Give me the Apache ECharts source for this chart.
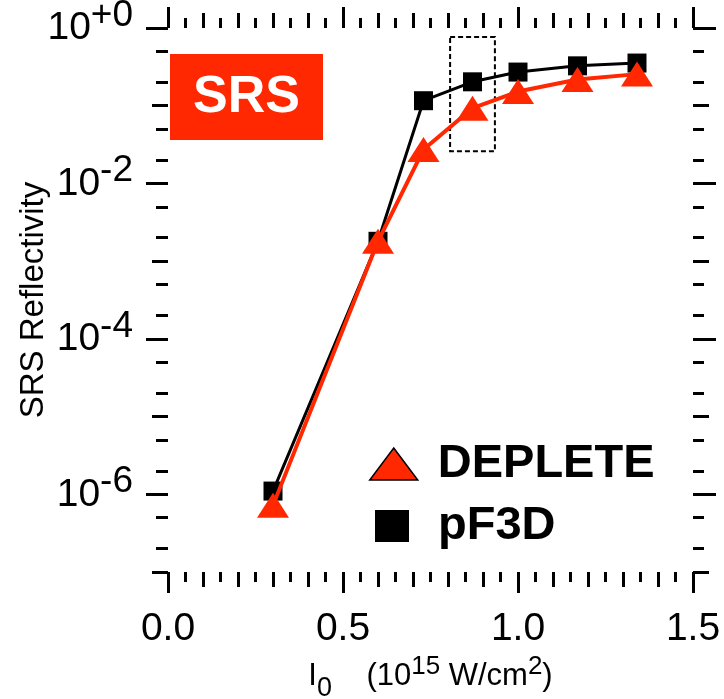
<!DOCTYPE html>
<html>
<head>
<meta charset="utf-8">
<script src="https://cdn.jsdelivr.net/npm/echarts@6/dist/echarts.min.js"></script>
<style>
  html, body { margin: 0; padding: 0; background: #ffffff; }
  #chart { width: 724px; height: 699px; }
</style>
</head>
<body>
<div id="chart"></div>
<script>
// Laser intensity I0 (10^15 W/cm^2)
const intensity = [0.30, 0.60, 0.73, 0.87, 1.00, 1.17, 1.34];
// SRS reflectivity from the two codes
const pf3dReflectivity = [1.1e-6, 1.8e-3, 0.116, 0.203, 0.271, 0.326, 0.354];
const depleteReflectivity = [7.2e-7, 1.8e-3, 0.0273, 0.093, 0.152, 0.217, 0.255];
const seriesNames = ['DEPLETE', 'pF3D'];

// Axis ranges and ticks (y is handled in log10 space)
const xRange = [0, 1.5];
const xLabelStep = 0.5;
const xMidStep = 0.1;
const xMinorStep = 0.05;
const yDecadeRange = [-7, 0];
const yLabelledDecades = [-6, -4, -2, 0];
const yOddDecades = [-7, -5, -3, -1];
const yMinorFactors = [2, 5];

// Highlighted region (x from..to, reflectivity from..to)
const boxX = [0.806, 0.934];
const boxY = [0.026, 0.767];

const FONT = '"Liberation Sans", Arial, Helvetica, sans-serif';
const RED = '#ff2800';

const log10 = v => Math.log10(v);
const yMinorTicks = [];
for (let k = yDecadeRange[0]; k < yDecadeRange[1]; k++) {
  yMinorFactors.forEach(f => yMinorTicks.push(k + log10(f)));
}

function xTickAxis(position, interval, length, withLabels) {
  return {
    type: 'value', gridIndex: 0, position,
    min: xRange[0], max: xRange[1], interval,
    axisLine: { show: false, onZero: false },
    splitLine: { show: false },
    axisTick: { show: true, inside: false, length, lineStyle: { color: '#000', width: 3 } },
    axisLabel: withLabels ? {
      show: true, margin: 38, color: '#000', fontFamily: FONT, fontSize: 39,
      formatter: v => v.toFixed(1)
    } : { show: false },
    name: withLabels ? '{i|I}{sub|0}{t|    (10}{sup|15}{t| W/cm}{sup|2}{t|)}' : '',
    nameLocation: 'middle',
    nameGap: 88,
    nameMoveOverlap: false,
    nameTextStyle: {
      color: '#000', fontFamily: FONT,
      rich: {
        i: { fontSize: 31, fontFamily: FONT, color: '#000', verticalAlign: 'bottom', lineHeight: 32 },
        sub: { fontSize: 27, fontFamily: FONT, color: '#000', verticalAlign: 'bottom', lineHeight: 26, padding: [0, 0, -10, 0] },
        t: { fontSize: 31, fontFamily: FONT, color: '#000', verticalAlign: 'bottom', lineHeight: 32 },
        sup: { fontSize: 26, fontFamily: FONT, color: '#000', verticalAlign: 'bottom', lineHeight: 26, padding: [0, 0, 12, 0] }
      }
    }
  };
}

function yTickAxis(position, values, length, withLabels) {
  return {
    type: 'value', gridIndex: 0, position,
    min: yDecadeRange[0], max: yDecadeRange[1],
    axisLine: { show: false, onZero: false },
    splitLine: { show: false },
    axisTick: { show: true, inside: false, length, customValues: values, lineStyle: { color: '#000', width: 3 } },
    axisLabel: withLabels ? {
      show: true, margin: 35, customValues: values, color: '#000', fontFamily: FONT,
      formatter: v => '{b|10}{e|' + (v === 0 ? '+0' : String(v)) + '}',
      rich: {
        b: { fontSize: 39, fontFamily: FONT, color: '#000', verticalAlign: 'bottom', lineHeight: 40 },
        e: { fontSize: 37, fontFamily: FONT, color: '#000', verticalAlign: 'bottom', lineHeight: 36, padding: [0, 0, 14, 0] }
      }
    } : { show: false },
    name: withLabels ? 'SRS Reflectivity' : '',
    nameLocation: 'middle',
    nameGap: 118,
    nameMoveOverlap: false,
    nameTextStyle: { color: '#000', fontFamily: FONT, fontSize: 33 }
  };
}

const chart = echarts.init(document.getElementById('chart'), null, { renderer: 'canvas' });

chart.setOption({
  animation: false,
  backgroundColor: '#ffffff',
  grid: { left: 168, right: 31, top: 28, bottom: 127, containLabel: false, outerBoundsMode: 'none' },
  xAxis: [
    xTickAxis('bottom', xLabelStep, 21, true),
    xTickAxis('bottom', xMidStep, 15, false),
    xTickAxis('bottom', xMinorStep, 10, false),
    xTickAxis('top', xLabelStep, 21, false),
    xTickAxis('top', xMidStep, 15, false),
    xTickAxis('top', xMinorStep, 10, false)
  ],
  yAxis: [
    yTickAxis('left', yLabelledDecades, 22, true),
    yTickAxis('left', yOddDecades, 16, false),
    yTickAxis('left', yMinorTicks, 12, false),
    yTickAxis('right', yLabelledDecades, 23, false),
    yTickAxis('right', yOddDecades, 16, false),
    yTickAxis('right', yMinorTicks, 11, false)
  ],
  legend: [
    {
      left: 369, top: 440, padding: 0,
      selectedMode: false,
      itemWidth: 48, itemHeight: 32,
      data: [{ name: seriesNames[0], icon: 'triangle', itemStyle: { color: RED, borderColor: '#000', borderWidth: 1.5 } }],
      textStyle: { color: '#000', fontFamily: FONT, fontSize: 47, fontWeight: 'bold', lineHeight: 48, padding: [0, 0, 0, 15] }
    },
    {
      left: 375, top: 502, padding: 0,
      selectedMode: false,
      itemWidth: 34, itemHeight: 32,
      data: [{ name: seriesNames[1], icon: 'rect', itemStyle: { color: '#000' } }],
      textStyle: { color: '#000', fontFamily: FONT, fontSize: 47, fontWeight: 'bold', lineHeight: 48, padding: [0, 0, 0, 24] }
    }
  ],
  graphic: [
    {
      type: 'group', left: 170, top: 54,
      children: [
        { type: 'rect', shape: { x: 0, y: 0, width: 153, height: 86 }, style: { fill: RED } },
        {
          type: 'text',
          style: {
            text: 'SRS', x: 76.5, y: 44, align: 'center', verticalAlign: 'middle',
            fontSize: 52, fontWeight: 'bold', fontFamily: FONT, fill: '#ffffff'
          }
        }
      ]
    }
  ],
  series: [
    {
      name: seriesNames[1],
      type: 'line',
      xAxisIndex: 0, yAxisIndex: 0,
      data: intensity.map((x, i) => [x, log10(pf3dReflectivity[i])]),
      symbol: 'rect', symbolSize: 19,
      lineStyle: { color: '#000', width: 3 },
      itemStyle: { color: '#000' },
      z: 3,
      markArea: {
        silent: true,
        itemStyle: { color: 'rgba(0,0,0,0)', borderColor: '#000', borderWidth: 2, borderType: [5, 3] },
        data: [[{ coord: [boxX[0], log10(boxY[1])] }, { coord: [boxX[1], log10(boxY[0])] }]]
      }
    },
    {
      name: seriesNames[0],
      type: 'line',
      xAxisIndex: 0, yAxisIndex: 0,
      data: intensity.map((x, i) => [x, log10(depleteReflectivity[i])]),
      symbol: 'triangle', symbolSize: [32, 25],
      lineStyle: { color: RED, width: 4 },
      itemStyle: { color: RED },
      z: 4
    }
  ]
});
</script>
</body>
</html>
